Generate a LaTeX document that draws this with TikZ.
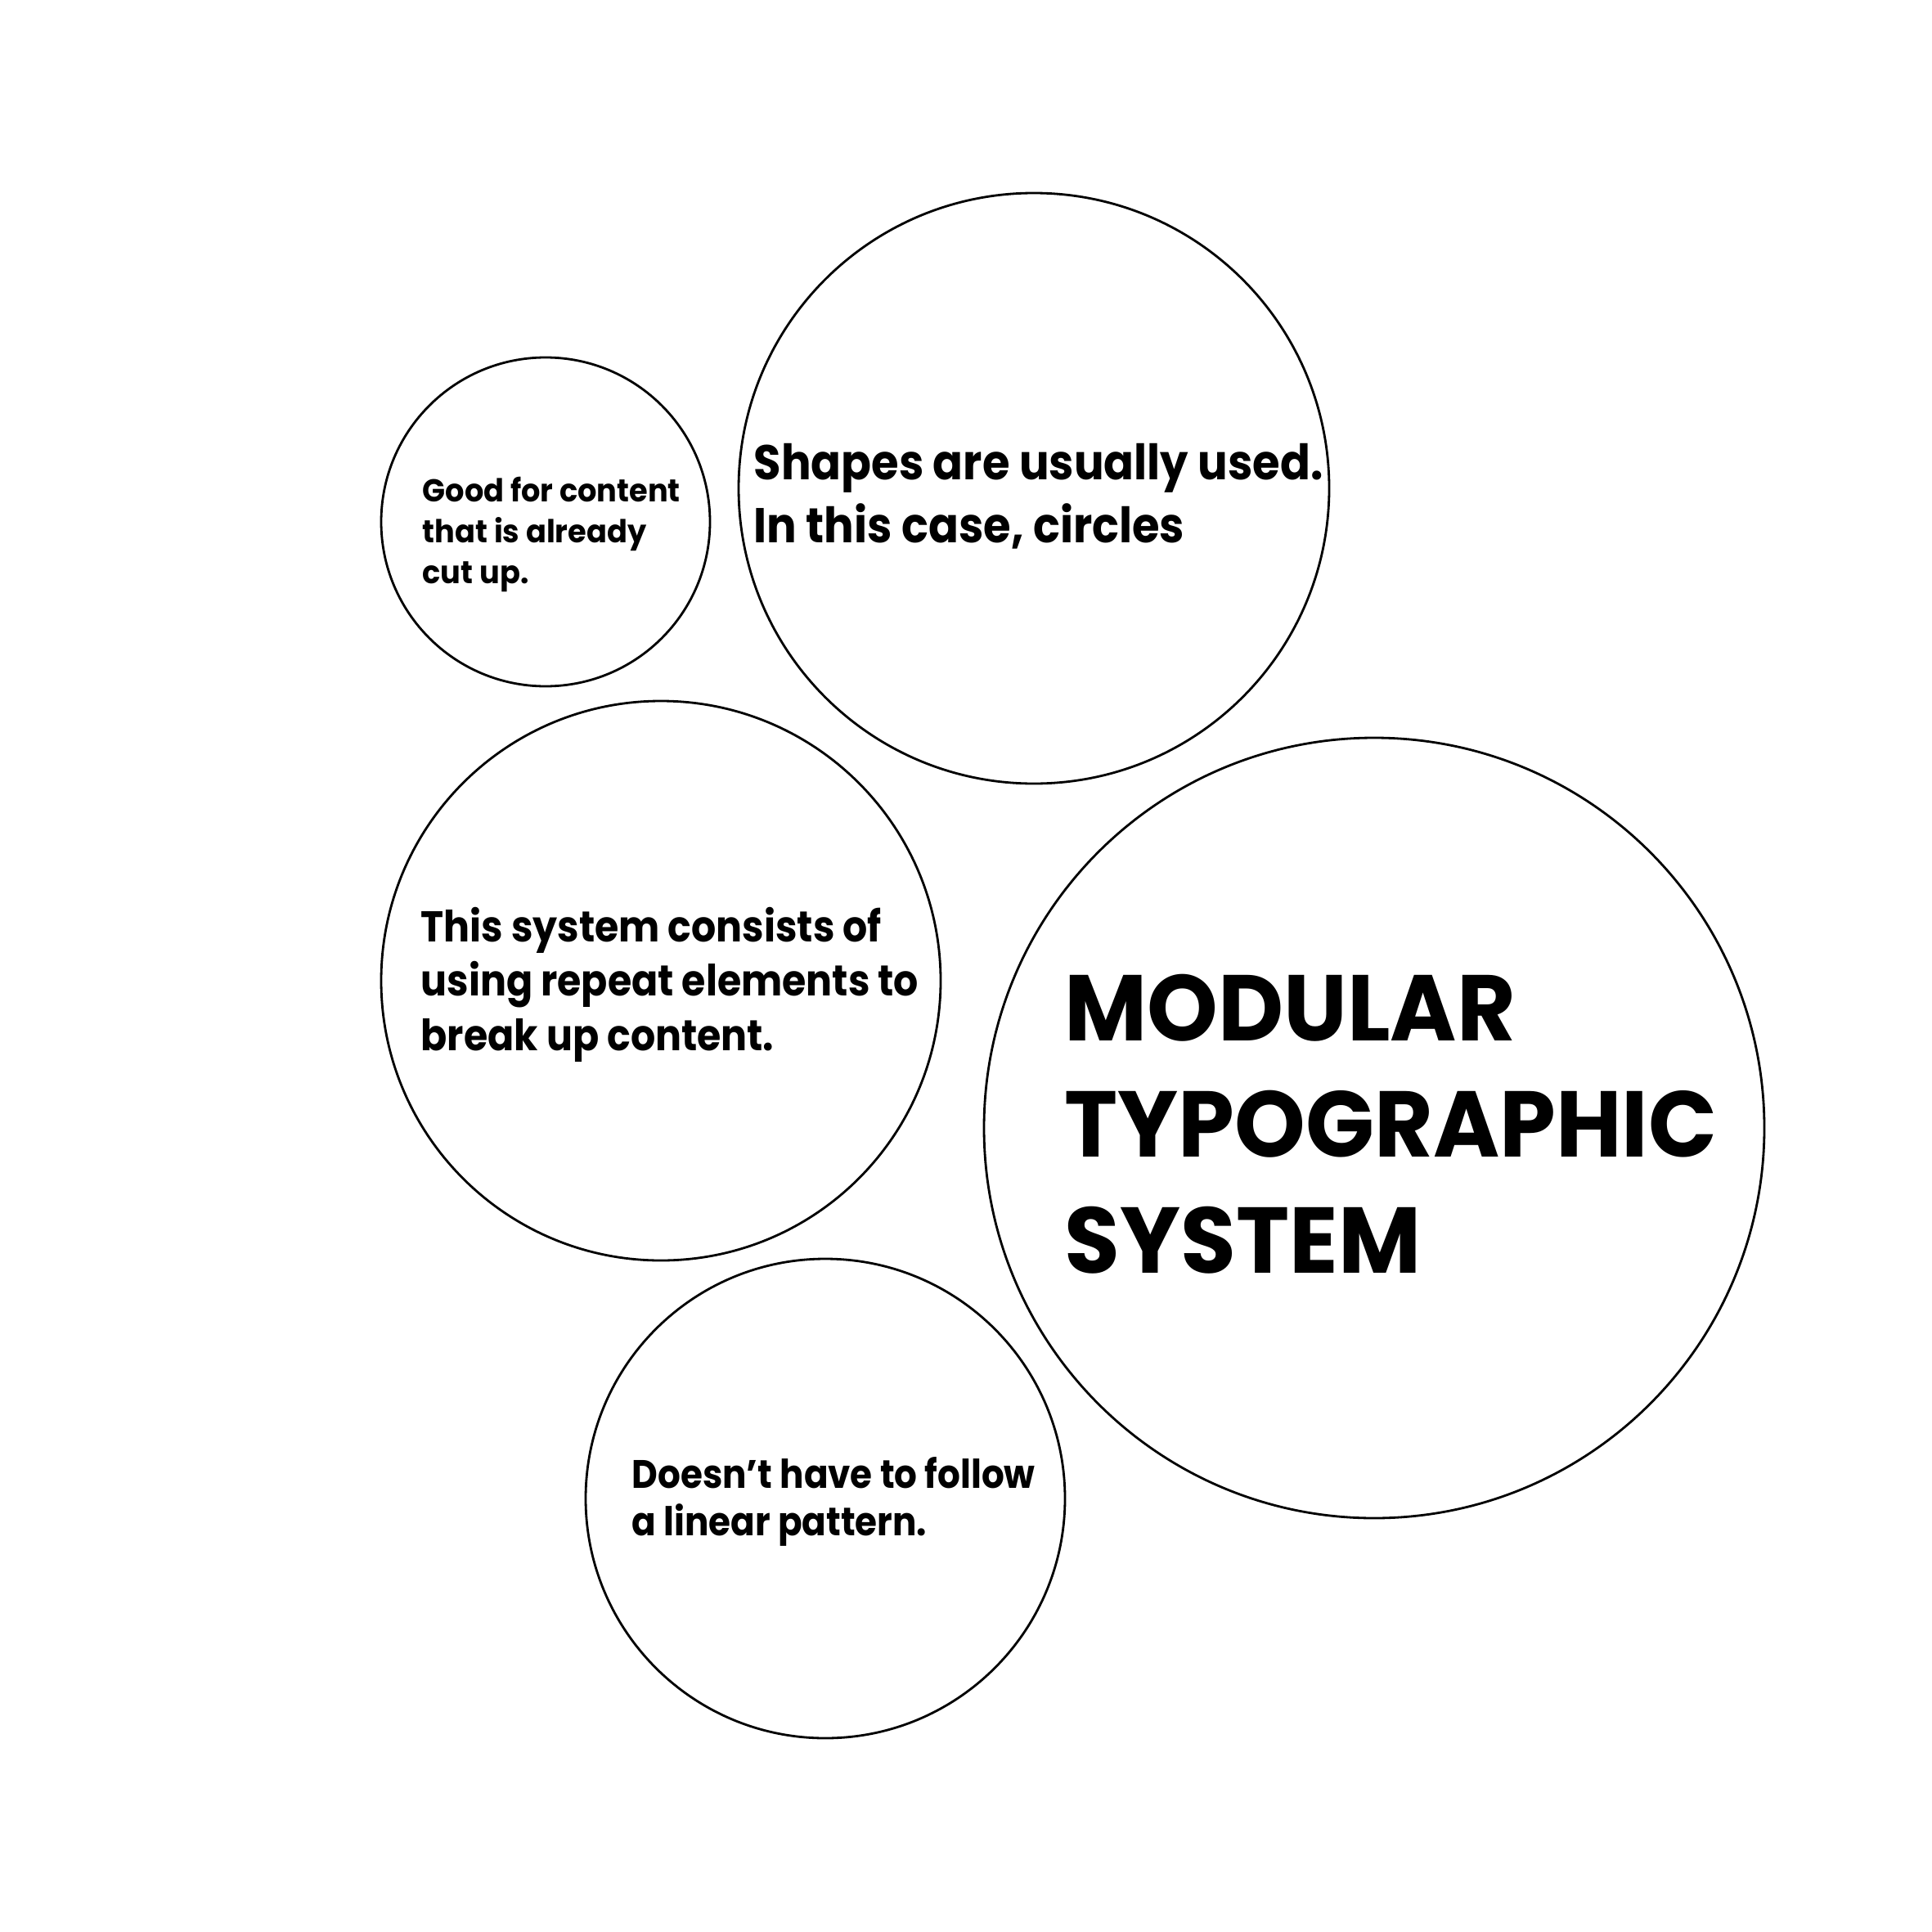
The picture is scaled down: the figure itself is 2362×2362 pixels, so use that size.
\documentclass[tikz,border=0pt]{standalone}
\usepackage{fontspec}
\setmainfont{Poppins}
\usepackage{tikz}
\usetikzlibrary{positioning}

\tikzset{
  bubble/.style={draw, circle, line width=0.8pt, inner sep=0pt},
  blurb/.style={anchor=base west, align=left, inner sep=0pt}
}

\begin{document}
\begin{tikzpicture}[x=0.1mm,y=-0.1mm]

  \useasboundingbox[fill=white] (0,0) rectangle (2362,2362);

  \node[bubble,minimum size=40.2mm] at (667,638) (good){};
  \node[bubble,minimum size=72.2mm] at (1264,597) (shapes){};
  \node[bubble,minimum size=68.4mm] at (808,1199) (system){};
  \node[bubble,minimum size=95.4mm] at (1680,1379) (modular){};
  \node[bubble,minimum size=58.6mm] at (1009,1832) (linear){};

  % base west sits on the last line
  \node[blurb,font=\fontsize{11pt}{14.2pt}\selectfont\bfseries\addfontfeature{FakeStretch=0.95}] at ([shift={(-151,75)}]good.center) (goodtxt)
    {Good for content\\that is already\\cut up.};
  \node[blurb,font=\fontsize{17pt}{21.9pt}\selectfont\bfseries\addfontfeature{FakeStretch=0.91}] at ([shift={(-343,66)}]shapes.center) (shapestxt)
    {Shapes are usually used.\\In this case, circles};
  \node[blurb,font=\fontsize{15pt}{18.8pt}\selectfont\bfseries\addfontfeature{FakeStretch=0.9}] at ([shift={(-294,85)}]system.center) (systemtxt)
    {This system consists of\\using repeat elements to\\break up content.};
  \node[blurb,font=\fontsize{32.5pt}{40.4pt}\selectfont\bfseries\addfontfeature{FakeStretch=0.965}] at ([shift={(-379,177)}]modular.center) (modulartxt)
    {MODULAR\\TYPOGRAPHIC\\SYSTEM};
  \node[blurb,font=\fontsize{13.8pt}{16.5pt}\selectfont\bfseries\addfontfeature{FakeStretch=0.9}] at ([shift={(-237,45)}]linear.center) (lineartxt)
    {Doesn’t have to follow\\a linear pattern.};

\end{tikzpicture}
\end{document}
